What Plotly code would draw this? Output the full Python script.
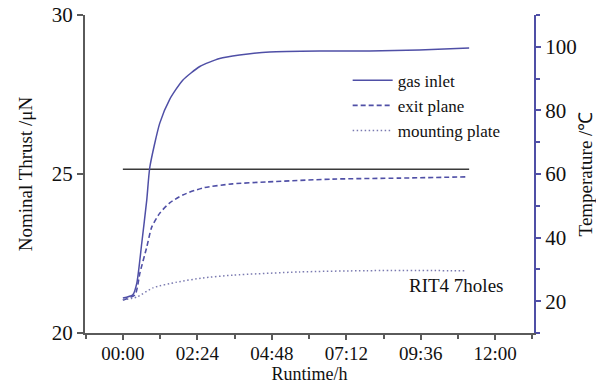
import plotly.graph_objects as go

# Runtime (h) and temperatures (°C)
inlet_t = [0, 0.32, 0.45, 0.61, 0.77, 0.87, 1.19, 1.51, 1.93, 2.48, 3.12, 3.76, 4.73, 6.34, 7.95, 9.55, 11.16]
inlet_T = [21.0, 22.0, 25.7, 38.3, 51.8, 62.2, 76.0, 83.5, 89.5, 93.8, 96.3, 97.4, 98.4, 98.7, 98.7, 99.0, 99.6]

exit_t = [0, 0.39, 0.55, 0.77, 0.93, 1.19, 1.51, 1.93, 2.57, 3.54, 4.63, 6.76, 8.91, 11.07]
exit_T = [20.4, 22.0, 28.9, 37.0, 43.3, 47.7, 50.9, 53.4, 55.6, 56.9, 57.5, 58.4, 58.7, 59.1]

mount_t = [0, 0.45, 0.97, 1.74, 2.57, 3.54, 5.69, 7.85, 11.07]
mount_T = [20.4, 21.3, 24.2, 26.0, 27.3, 28.2, 29.2, 29.6, 29.6]

thrust_t = [0, 11.16]
thrust_v = [25.15, 25.15]

x_tickvals = [0, 2.4, 4.8, 7.2, 9.6, 12.0]
x_ticktext = ["00:00", "02:24", "04:48", "07:12", "09:36", "12:00"]

FONT = "Liberation Serif, Times New Roman, serif"
BLUE = "#4f4fa6"
GREY = "#5a5a5a"
XR = [-1.22, 13.25]

fig = go.Figure()
fig.add_trace(go.Scatter(x=thrust_t, y=thrust_v, mode="lines", line=dict(color="#3a3a3a", width=1.3),
                         showlegend=False, yaxis="y"))
fig.add_trace(go.Scatter(x=inlet_t, y=inlet_T, mode="lines", name="gas inlet", yaxis="y2",
                         line=dict(color=BLUE, width=1.5, shape="spline", smoothing=0.6)))
fig.add_trace(go.Scatter(x=exit_t, y=exit_T, mode="lines", name="exit plane", yaxis="y2",
                         line=dict(color=BLUE, width=1.6, dash="5px,3px", shape="spline", smoothing=0.6)))
fig.add_trace(go.Scatter(x=mount_t, y=mount_T, mode="lines", name="mounting plate", yaxis="y2",
                         line=dict(color="#7a7ab0", width=1.5, dash="1.5px,2.5px", shape="spline", smoothing=0.6)))

fig.add_annotation(x=10.75, y=21.5, xref="x", yref="y", text="RIT4 7holes", showarrow=False,
                   font=dict(family=FONT, size=19, color="#111"))

fig.update_layout(
    width=596, height=384,
    margin=dict(l=85, r=62, t=15, b=51),
    paper_bgcolor="white", plot_bgcolor="white",
    font=dict(family=FONT, size=19, color="#111"),
    xaxis=dict(range=XR, tickvals=x_tickvals, ticktext=x_ticktext, showgrid=False, zeroline=False,
               showline=True, linecolor=GREY, linewidth=2, ticks="outside", ticklen=5, tickcolor=GREY,
               tickwidth=1.5, automargin=False, ticklabelstandoff=-3,
               minor=dict(dtick=1.2, tick0=0, ticks="outside", ticklen=4, tickcolor=GREY),
               title=dict(text="Runtime/h", font=dict(size=18), standoff=0),
               tickfont=dict(size=19)),
    xaxis2=dict(range=XR, overlaying="x", side="top", tickvals=x_tickvals, showticklabels=False,
                showgrid=False, zeroline=False, showline=True, linecolor=GREY, linewidth=2,
                ticks="inside", ticklen=5, tickcolor=GREY, tickwidth=1.5, automargin=False,
                minor=dict(dtick=1.2, tick0=0, ticks="inside", ticklen=4, tickcolor=GREY)),
    yaxis=dict(range=[20, 30], tickvals=[20, 25, 30], showgrid=False, zeroline=False,
               showline=True, linecolor=GREY, linewidth=2, ticks="outside", ticklen=6,
               tickcolor=GREY, tickwidth=1.5, automargin=False,
               title=dict(text="Nominal Thrust /μN", font=dict(size=19), standoff=14),
               tickfont=dict(size=21)),
    yaxis2=dict(range=[10, 110], overlaying="y", side="right", tickvals=[20, 40, 60, 80, 100],
                showgrid=False, zeroline=False, showline=True, linecolor=BLUE, linewidth=2,
                ticks="outside", ticklen=5, tickcolor=BLUE, tickwidth=1.5, automargin=False,
                minor=dict(dtick=10, tick0=0, ticks="outside", ticklen=4, tickcolor=BLUE),
                title=dict(text="Temperature /℃", font=dict(size=19), standoff=6),
                tickfont=dict(size=21)),
    legend=dict(x=0.585, y=0.85, xanchor="left", yanchor="top", bgcolor="rgba(0,0,0,0)",
                font=dict(family=FONT, size=17), itemwidth=40, tracegroupgap=0),
    showlegend=True,
)

fig.write_html("out.html")
